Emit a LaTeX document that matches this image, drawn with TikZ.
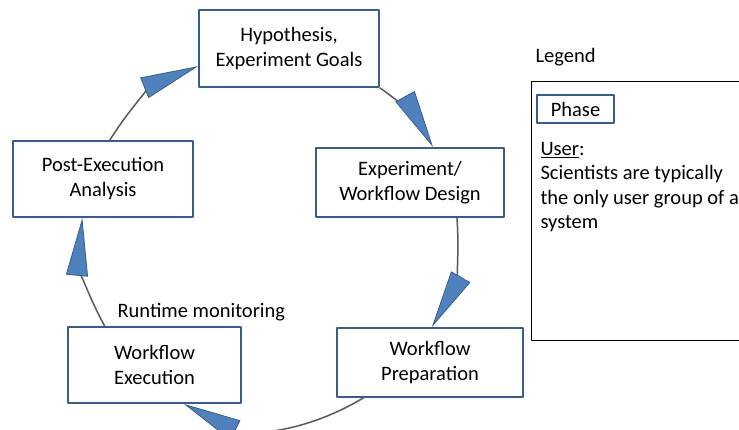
\documentclass[tikz,border=0pt]{standalone}
\usepackage{fontspec}
\setmainfont{Carlito}
\usetikzlibrary{arrows.meta}
\definecolor{phaseblue}{HTML}{4F81BD}
\definecolor{phaseedge}{HTML}{385D8A}
\definecolor{flowgray}{HTML}{595959}
\begin{document}
\begin{tikzpicture}[x=1pt,y=1pt,line join=round,
  every node/.style={font=\fontsize{20.5}{25}\selectfont},
  phase/.style={draw=phaseedge,line width=1.8pt,fill=white,align=center,inner sep=0pt},
  flow/.style={draw=flowgray,line width=1.5pt,-{Triangle[length=58pt,width=22pt,line width=0.8pt,fill=phaseblue,color=phaseedge]}}]
\useasboundingbox (0,0) rectangle (739,-430);
\node[phase,minimum width=180pt,minimum height=77pt] (hyp) at (289,-48.5) {Hypothesis,\\Experiment Goals};
\node[phase,minimum width=188pt,minimum height=69pt] (design) at (410,-182.5) {Experiment/\\Workflow Design};
\node[phase,minimum width=186pt,minimum height=69pt] (prep) at (430,-362.5) {Workflow\\Preparation};
\node[phase,minimum width=173pt,minimum height=76pt] (exec) at (154.5,-365) {Workflow\\Execution};
\node[phase,minimum width=180pt,minimum height=76pt] (post) at (103,-179) {Post-Execution\\Analysis};
\node[anchor=base west] (monitor) at (114,-318) {Runtime monitoring};
\draw[flow] (post.80) to[bend left=18] (hyp.191);
\draw[flow] (hyp.south east) to[bend left=13] (design.57);
\draw[flow] (design.-37) to[bend left=17] (prep.87);
\draw[flow] (prep.208) to[bend left=29] (exec.-53);
\draw[flow] (exec.142) to[bend left=17] (post.242);
\node[anchor=base west] (legendtitle) at (532,-63) {Legend};
\draw[line width=0.8pt] (531,-81) rectangle (750,-340);
\node[phase,minimum width=77pt,minimum height=28pt] (phasekey) at (575.5,-109) {Phase};
\node[anchor=base west,align=left,font=\fontsize{20.5}{24.5}\selectfont] (userkey) at (537,-229) {\underline{User}:\\Scientists are typically\\the only user group of a\\system};
\end{tikzpicture}
\end{document}
